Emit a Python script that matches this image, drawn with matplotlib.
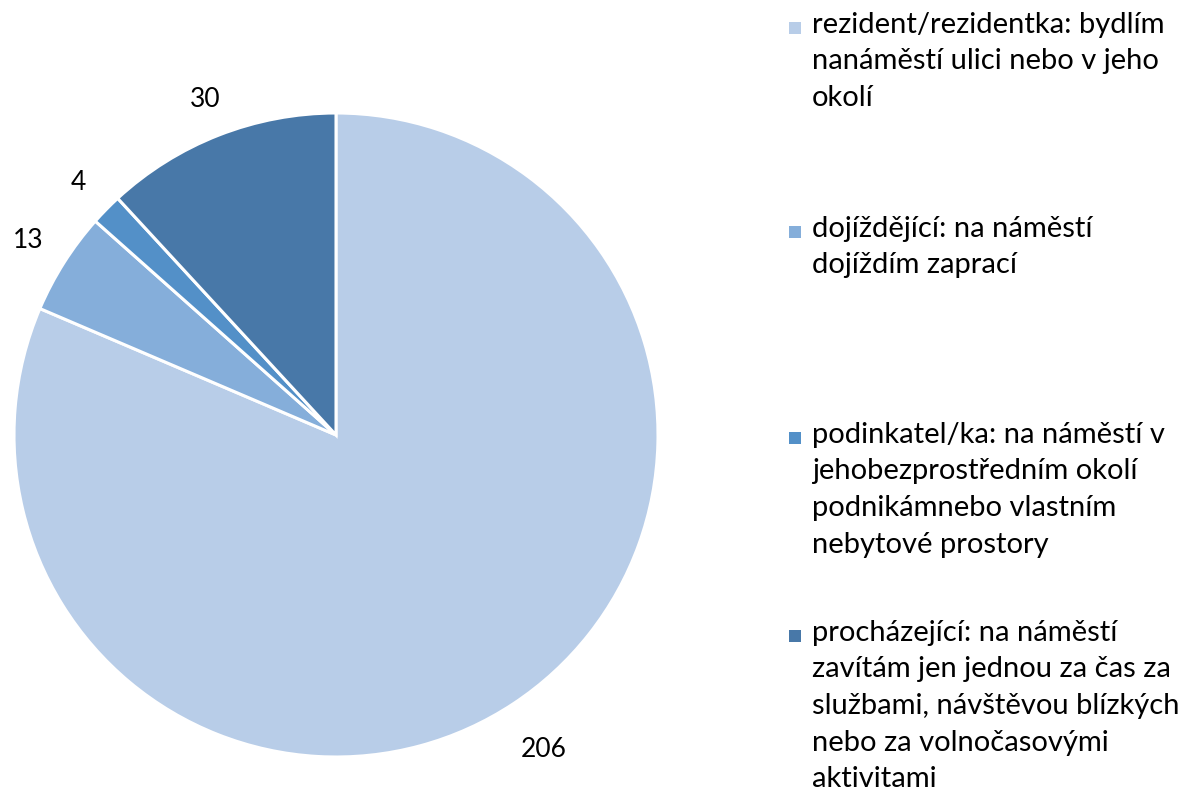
import numpy as np
import matplotlib.pyplot as plt
from matplotlib.patches import Rectangle

# data
values = [206, 13, 4, 30]
labels = [
    "rezident/rezidentka: bydlím\nnanáměstí ulici nebo v jeho\nokolí",
    "dojíždějící: na náměstí\ndojíždím zaprací",
    "podinkatel/ka: na náměstí v\njehobezprostředním okolí\npodnikámnebo vlastním\nnebytové prostory",
    "procházející: na náměstí\nzavítám jen jednou za čas za\nslužbami, návštěvou blízkých\nnebo za volnočasovými\naktivitami",
]
colors = ["#B8CDE8", "#85AEDA", "#5390C8", "#4878A8"]

plt.rcParams['font.family'] = ['Lato', 'DejaVu Sans']

W, H = 1192, 802
fig = plt.figure(figsize=(W / 100, H / 100), dpi=100)

# pie axes (pixel box of the pie)
ax = fig.add_axes([14 / W, 45 / H, 644 / W, 644 / H])
wedges, _ = ax.pie(values, colors=colors, startangle=90, counterclock=False,
                   radius=1.0, wedgeprops=dict(edgecolor="white", linewidth=2.2))
ax.set_xlim(-1, 1)
ax.set_ylim(-1, 1)
ax.set_aspect("equal")
ax.axis("off")

# data labels outside each slice
label_dist = [1.17, 1.13, 1.12, 1.12]
for w, v, d in zip(wedges, values, label_dist):
    ang = np.deg2rad((w.theta1 + w.theta2) / 2)
    ax.text(d * np.cos(ang), d * np.sin(ang), str(v), ha="center", va="center",
            fontsize=19, color="black", clip_on=False)

# legend drawn by hand to keep Excel-like even spacing
entry_top = [12, 216, 422, 620]
for lab, col, top in zip(labels, colors, entry_top):
    fig.patches.append(Rectangle((789 / W, 1 - (top + 22) / H), 12 / W, 12 / H,
                                 transform=fig.transFigure, facecolor=col,
                                 edgecolor="none"))
    fig.text(812 / W, 1 - top / H, lab, ha="left", va="top", fontsize=21,
             linespacing=1.5, color="black")

fig.savefig("out.png", dpi=100)
